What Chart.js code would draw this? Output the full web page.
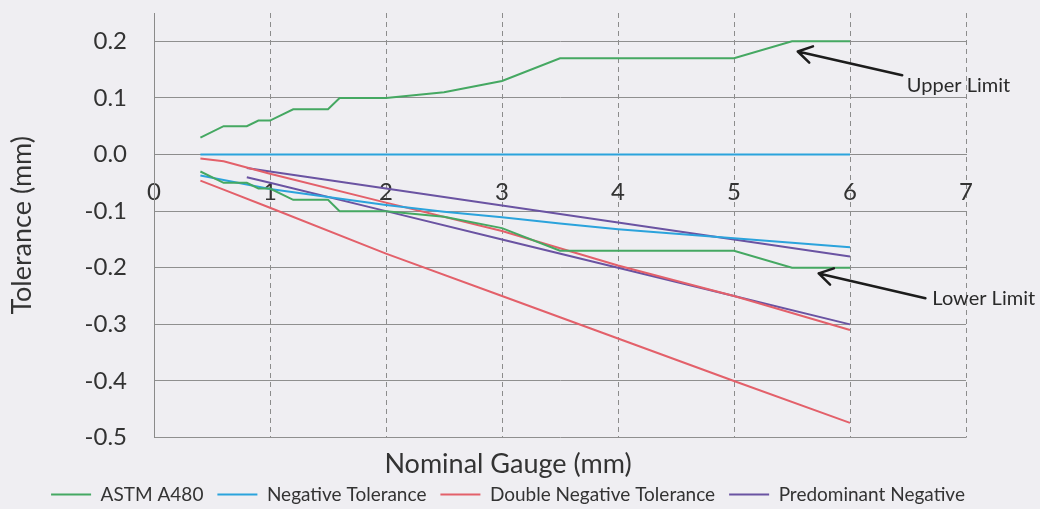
<!DOCTYPE html>
<html>
<head>
<meta charset="utf-8">
<title>Tolerance vs Nominal Gauge</title>
<script src="https://cdn.jsdelivr.net/npm/chart.js@4.4.1/dist/chart.umd.min.js"></script>
<style>
  html, body { margin: 0; padding: 0; background: #efeef2; }
  #wrap { width: 1040px; height: 509px; position: relative; }
</style>
</head>
<body>
<div id="wrap"><canvas id="gaugeChart"></canvas></div>
<script>
// ASTM A480 limits (stepped)
var astmGauge = [0.4, 0.6, 0.8, 0.9, 1.0, 1.2, 1.5, 1.6, 2.0, 2.5, 3.0, 3.5, 5.0, 5.5, 6.0];
var astmUpper = [0.03, 0.05, 0.05, 0.06, 0.06, 0.08, 0.08, 0.10, 0.10, 0.11, 0.13, 0.17, 0.17, 0.20, 0.20];
var astmLower = [-0.03, -0.05, -0.05, -0.06, -0.06, -0.08, -0.08, -0.10, -0.10, -0.11, -0.13, -0.17, -0.17, -0.20, -0.20];

// Negative tolerance
var negGauge = [0.4, 1.0, 1.5, 2.0, 2.5, 3.0, 3.5, 4.0, 4.5, 5.0, 5.5, 6.0];
var negUpper = [0, 0, 0, 0, 0, 0, 0, 0, 0, 0, 0, 0];
var negLower = [-0.037, -0.061, -0.075, -0.089, -0.101, -0.111, -0.122, -0.132, -0.140, -0.148, -0.156, -0.164];

// Double negative tolerance
var dblGauge = [0.4, 0.6, 1.0, 2.0, 3.0, 4.0, 5.0, 6.0];
var dblUpper = [-0.007, -0.012, -0.034, -0.085, -0.135, -0.196, -0.250, -0.310];
var dblLower = [-0.046, -0.062, -0.094, -0.175, -0.250, -0.325, -0.400, -0.474];

// Predominant negative
var predGauge = [0.8, 1.0, 2.0, 3.0, 4.0, 5.0, 6.0];
var predUpper = [-0.024, -0.030, -0.060, -0.090, -0.120, -0.150, -0.180];
var predLower = [-0.040, -0.050, -0.100, -0.150, -0.200, -0.250, -0.300];

var seriesNames = ["ASTM A480", "Negative Tolerance", "Double Negative Tolerance", "Predominant Negative"];
var seriesColors = ["#45a862", "#2ba3dc", "#e3606a", "#6a53a2"];

// callouts: [arrow head], [arrow tail], [text start], in data units
var callouts = [
  { text: "Upper Limit", head: [5.55, 0.182], tail: [6.45, 0.140], at: [6.49, 0.122] },
  { text: "Lower Limit", head: [5.73, -0.210], tail: [6.65, -0.254], at: [6.71, -0.254] }
];

function pts(xs, ys) {
  return xs.map(function(x, i) { return { x: x, y: ys[i] }; });
}
// upper and lower curve in one dataset, broken by a gap
function band(xs, up, lo) {
  return pts(xs, up).concat([{ x: xs[xs.length - 1], y: null }], pts(xs, lo));
}

var bands = [
  band(astmGauge, astmUpper, astmLower),
  band(negGauge, negUpper, negLower),
  band(dblGauge, dblUpper, dblLower),
  band(predGauge, predUpper, predLower)
];

var calloutPlugin = {
  id: 'callouts',
  afterDatasetsDraw: function(chart) {
    var xs = chart.scales.x, ys = chart.scales.y, ctx = chart.ctx;
    callouts.forEach(function(c) {
      var hx = xs.getPixelForValue(c.head[0]), hy = ys.getPixelForValue(c.head[1]);
      var tx = xs.getPixelForValue(c.tail[0]), ty = ys.getPixelForValue(c.tail[1]);
      var a = Math.atan2(ty - hy, tx - hx);
      ctx.save();
      ctx.strokeStyle = '#1c1c1c';
      ctx.lineWidth = 2.5;
      ctx.lineCap = 'round';
      ctx.beginPath();
      ctx.moveTo(tx, ty);
      ctx.lineTo(hx, hy);
      [-0.55, 0.55].forEach(function(d) {
        ctx.moveTo(hx, hy);
        ctx.lineTo(hx + 16 * Math.cos(a + d), hy + 16 * Math.sin(a + d));
      });
      ctx.stroke();
      ctx.fillStyle = '#2a2a2a';
      ctx.font = '20px Lato';
      ctx.textAlign = 'left';
      ctx.textBaseline = 'middle';
      ctx.fillText(c.text, xs.getPixelForValue(c.at[0]), ys.getPixelForValue(c.at[1]));
      ctx.restore();
    });
  }
};

var ctx = document.getElementById("gaugeChart").getContext('2d');
var gaugeChart = new Chart(ctx, {
  type: 'line',
  data: {
    datasets: bands.map(function(d, i) {
      return {
        label: seriesNames[i],
        data: d,
        borderColor: seriesColors[i],
        backgroundColor: seriesColors[i],
        borderWidth: 2,
        pointRadius: 0,
        tension: 0,
        spanGaps: false
      };
    })
  },
  plugins: [calloutPlugin],
  options: {
    responsive: true,
    maintainAspectRatio: false,
    animation: false,
    layout: { padding: { top: 0, right: 24, left: 0, bottom: 0 } },
    scales: {
      x: {
        type: 'linear',
        axis: 'x',
        position: { y: 0 },
        min: 0,
        max: 7,
        ticks: {
          stepSize: 1,
          padding: 23,
          color: '#333',
          font: { family: 'Lato', size: 24 }
        },
        grid: { color: '#8c8c8c', lineWidth: 1, drawTicks: false },
        border: { color: '#8c8c8c', dash: [5, 4] }
      },
      y: {
        type: 'linear',
        position: 'left',
        min: -0.5,
        max: 0.25,
        afterFit: function(s) {
          s.width = 154;
          s.paddingTop = 13;
          s.paddingBottom = 0;
        },
        ticks: {
          stepSize: 0.1,
          includeBounds: false,
          padding: 27,
          color: '#333',
          font: { family: 'Lato', size: 24, lineHeight: 1.1 },
          callback: function(v) { return v.toFixed(1); }
        },
        grid: { color: '#8f8f8f', lineWidth: 1, drawTicks: false },
        border: { display: true, color: '#8a8a8a' },
        title: {
          display: true,
          text: 'Tolerance (mm)',
          color: '#333',
          font: { family: 'Lato', size: 27 },
          padding: { top: 6, bottom: 0 }
        }
      },
      y2: {
        type: 'linear',
        position: 'right',
        display: true,
        afterFit: function(s) { s.width = 50; },
        ticks: { display: false },
        grid: { display: false, drawTicks: false },
        border: { display: false }
      }
    },
    plugins: {
      title: {
        display: true,
        position: 'bottom',
        weight: 500,
        fullSize: true,
        text: 'Nominal Gauge (mm)',
        color: '#333',
        font: { family: 'Lato', size: 27, weight: 'normal', lineHeight: 0.46 },
        padding: { top: 21, bottom: 0 }
      },
      legend: {
        position: 'bottom',
        maxHeight: 38,
        labels: {
          boxWidth: 40,
          boxHeight: 0,
          padding: 14,
          color: '#333',
          font: { family: 'Lato', size: 19 }
        }
      },
      tooltip: { enabled: false }
    }
  }
});
</script>
</body>
</html>
